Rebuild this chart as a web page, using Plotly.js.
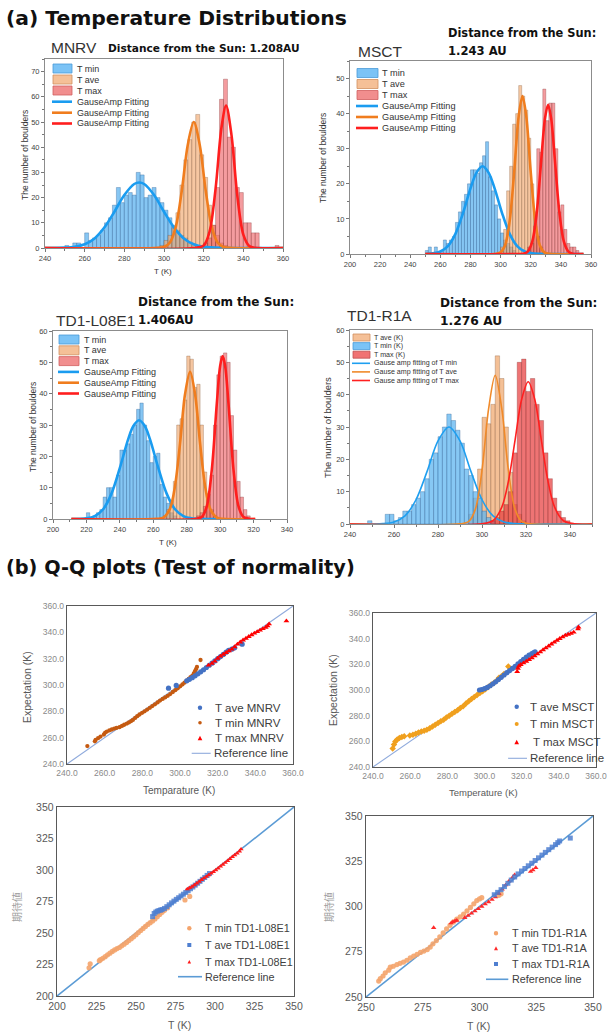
<!DOCTYPE html>
<html><head><meta charset="utf-8">
<script src="https://cdn.plot.ly/plotly-3.0.1.min.js"></script>
<style>html,body{margin:0;padding:0;background:#fff}#chart{width:608px;height:1032px}</style>
</head><body><div id="chart"></div>
<script>
const W = 608, H = 1032;
const px = v => v / W;
const py = v => 1 - v / H;

// ===== (a) Histograms: bin centres (K) and counts =====
const mnrvMinX = [251,253,255,257,259,261,263,265,267,269,271,273,275,277,279,281,283,285,287,289,291,293,295,297,299,301,303,305,307,309,311,313,315,317];
const mnrvMinY = [1,0,2,2,0,6,3,4,5,7,10,12,17,24,18,21,22,21,30,29,20,21,24,20,18,15,12,9,7,5,4,2,1,1];
const mnrvAveX = [299,301,303,305,307,309,311,313,315,317,319,321,323,325,327,329,331];
const mnrvAveY = [1,3,5,8,14,25,35,43,50,53,37,28,17,9,5,2,1];
const mnrvMaxX = [319,321,323,325,327,329,331,333,335,337,339,341,343,345,347,357];
const mnrvMaxY = [1,2,4,9,24,59,67,44,40,24,22,10,10,6,6,1];

const msctMinX = [251,253,255,257,259,261,263,265,267,269,271,273,275,277,279,281,283,285,287,289,291,293,295,297,299,301,303,305,307,309];
const msctMinY = [1,2,0,2,0,1,4,3,4,5,9,12,15,17,20,24,24,23,26,28,32,22,18,14,10,6,4,3,2,1];
const msctAveX = [301,303,305,307,309,311,313,315,317,319,321,323,325,327];
const msctAveY = [2,7,18,25,37,40,48,45,41,33,20,12,5,2];
const msctMaxX = [319,321,323,325,327,329,331,333,335,337,339,341,343,345,347,349,351];
const msctMaxY = [2,3,8,30,29,47,38,43,43,30,12,14,7,3,2,2,1];

const l08MinX = [221,223,225,227,229,231,233,235,237,239,241,243,245,247,249,251,253,255,257,259,261,263,265,267,269,271,273];
const l08MinY = [2,0,1,2,3,7,10,10,7,14,22,22,24,27,30,35,37,30,25,18,20,21,11,7,5,2,1];
const l08AveX = [267,269,271,273,275,277,279,281,283,285,287,289,291,293,295,297];
const l08AveY = [1,3,6,12,30,32,38,52,51,42,43,30,15,8,3,1];
const l08MaxX = [287,289,291,293,295,297,299,301,303,305,307,309,311,313,315,317];
const l08MaxY = [1,2,4,8,14,30,46,52,53,50,33,22,12,7,3,1];

const r1aMinX = [249,251,253,255,257,259,261,263,265,267,269,271,273,275,277,279,281,283,285,287,289,291,293,295,297,299,301,303,305];
const r1aMinY = [1,0,0,0,3,3,1,2,4,4,6,8,10,14,20,22,27,30,34,32,29,25,17,15,10,8,4,2,1];
const r1aAveX = [295,297,299,301,303,305,307,309,311,313,315,317,319];
const r1aAveY = [3,8,17,33,31,37,52,45,30,16,6,3,1];
const r1aMaxX = [305,307,309,311,313,315,317,319,321,323,325,327,329,331,333,335,337,339];
const r1aMaxY = [1,2,4,6,10,22,50,51,41,45,37,32,22,14,8,4,2,1];

// ===== GaussAmp fitting curves =====
const mnrvFitMinX = [240,250,255,260,265,270,275,280,285,287.5,290,295,300,305,310,315,320,330,360];
const mnrvFitMinY = [0,0.13,0.48,1.5,3.8,8.2,14.4,21,25.4,26,25.4,21,14.4,8.2,3.8,1.5,0.48,0.03,0];
const mnrvFitAveX = [240,295,300,303,306,309,312,315,318,321,324,327,330,335,360];
const mnrvFitAveY = [0,0.01,0.38,2.2,8.6,22.9,41,50,41,22.9,8.6,2.2,0.38,0.01,0];
const mnrvFitMaxX = [240,315,320,323,326,329,331.3,334,337,340,343,346,360];
const mnrvFitMaxY = [0,0.01,1.0,6.6,23.5,47.9,56.5,45,20.5,5.3,0.78,0.07,0];

const msctFitMinX = [250,255,260,265,270,275,280,284,288,292,296,301,306,311,316,321,330,355];
const msctFitMinY = [0,0.18,0.71,2.27,5.75,11.6,18.7,23.2,25,23.2,18.7,11.6,5.75,2.27,0.71,0.18,0.01,0];
const msctFitAveX = [250,296,300,303,306,309,312,314.5,317,320,323,326,329,333,355];
const msctFitAveY = [0,0,0.47,2.5,9.4,23.3,39.3,45,39.3,23.3,9.4,2.5,0.47,0.03,0];
const msctFitMaxX = [250,312,315,318,321,324,327,329.5,331.5,333.5,336,339,342,345,348,352,355];
const msctFitMaxY = [0,0,0.09,0.69,3.5,11.9,26.9,38.8,42.5,38.8,26.9,11.9,3.5,0.69,0.09,0,0];

const l08FitMinX = [211,220,225,230,235,240,245,248,251.5,255,258,263,268,273,278,283,290,300];
const l08FitMinY = [0,0.22,0.94,3.1,8.1,16.3,25.5,29.6,31.5,29.6,25.5,16.3,8.1,3.1,0.94,0.22,0.01,0];
const l08FitAveX = [211,262,266,270,273,276,279,282,285,288,291,294,298,302,321];
const l08FitAveY = [0,0.03,0.41,3.3,10.5,24.1,39.8,47,39.8,24.1,10.5,3.3,0.41,0.03,0];
const l08FitMaxX = [211,285,289,292,295,298,300,301.5,303,305,308,311,314,318,321];
const l08FitMaxY = [0,0.02,0.63,4,15.7,36.8,48.8,52,48.8,36.8,15.7,4,0.63,0.02,0];

const r1aFitMinX = [240,255,260,265,270,275,280,285,290,295,300,305,310,315,320,350];
const r1aFitMinY = [0,0.12,0.63,2.5,7.5,16.2,25.7,30,25.7,16.2,7.5,2.5,0.63,0.12,0.02,0];
const r1aFitAveX = [240,290,294,297,300,303,306,309,312,315,318,322,350];
const r1aFitAveY = [0,0.03,0.78,4.6,16.6,35.6,46,35.6,16.6,4.6,0.78,0.03,0];
const r1aFitMaxX = [240,300,305,309,312,315,318,321,324,327,330,333,337,342,350];
const r1aFitMaxY = [0,0.06,1,5.2,13.2,25.8,38.5,44,38.5,25.8,13.2,5.2,1,0.06,0];

// ===== (b) Q-Q plots: temperature (x) vs expectation (y) =====
const qqMnrvMinX = [250.8,254.8,255.2,256.5,257.8,259.6,260.3,261.2,262.5,263.8,265.1,266.3,267.9,269.2,270.4,271.8,272.9,274.1,275.0,276.2,277.3,278.5,279.9,281.2,282.6,284.0,285.3,286.7,288.1,289.4,290.8,292.1,293.5,294.8,296.2,297.5,298.8,300.1,301.3,302.4,303.5,304.6,305.6,306.5,307.3,307.9,308.5,309.0,310.9];
const qqMnrvMinY = [253.6,257.2,258.3,259.6,260.8,262.4,263.9,264.6,265.5,266.2,266.9,267.4,268.0,268.9,269.8,270.7,271.6,272.6,273.5,275.0,276.3,277.6,278.9,280.0,281.3,282.7,284.0,285.3,286.8,288.2,289.4,290.6,291.8,293.1,294.7,296.1,297.5,299.0,300.4,301.8,303.3,304.6,305.9,307.0,308.6,310.3,312.0,313.7,319.0];
const qqMnrvAveX = [293.9,298.0,303.6,305.0,306.5,308.0,309.5,311.0,312.5,314.0,315.5,317.0,318.5,320.0,321.5,323.0,324.5,325.8,327.5,329.0,333.0];
const qqMnrvAveY = [297.6,299.7,303.2,304.3,305.6,307.0,308.5,310.0,311.6,313.3,315.0,316.6,318.3,320.0,321.6,323.2,324.9,326.4,327.2,328.2,331.0];
const qqMnrvMaxX = [315.2,317.0,318.5,320.0,321.5,323.0,324.5,326.0,327.5,329.0,330.5,332.0,333.5,335.0,336.5,338.0,339.5,341.0,342.5,344.0,345.5,346.5,347.3,356.5];
const qqMnrvMaxY = [315.0,316.4,318.0,320.2,321.8,323.2,324.6,325.9,327.1,328.9,330.9,332.6,334.1,335.4,336.7,338.1,339.3,340.4,341.6,342.7,343.8,344.8,346.3,348.6];

const qqMsctMinX = [250.6,251.3,252.0,253.0,254.2,255.5,256.8,259.8,261.5,263.0,264.5,266.0,267.5,269.0,270.5,272.0,273.5,275.0,276.5,278.0,279.5,281.0,282.5,284.0,285.5,287.0,288.5,290.0,291.5,293.0,294.5,296.0,297.5,299.0,300.5,302.0,303.5,305.0,306.5,307.8,309.0,310.5,312.8];
const qqMsctMinY = [254.5,257.5,259.8,261.5,262.6,263.3,264.0,264.5,265.2,266.0,266.9,267.6,268.3,269.0,270.2,271.5,273.0,274.3,275.6,276.9,278.5,280.0,281.4,282.8,284.3,285.9,287.4,289.4,291.2,292.9,294.5,296.2,297.7,299.1,300.6,302.4,304.1,305.5,307.3,309.5,310.6,312.5,318.4];
const qqMsctAveX = [297.3,298.5,300.0,301.5,303.0,304.5,306.0,307.5,309.0,310.5,312.0,313.5,315.0,316.5,318.0,319.5,321.0,322.5,324.0,325.5,326.5,327.2];
const qqMsctAveY = [300.0,300.4,301.0,302.0,303.3,304.8,306.4,308.1,309.9,311.7,313.5,315.1,316.8,318.5,320.3,322.1,323.9,325.6,327.2,328.4,329.2,329.8];
const qqMsctMaxX = [317.6,318.0,318.5,319.5,321.0,322.5,324.0,325.5,327.0,328.5,330.0,331.5,333.0,334.5,336.0,337.5,339.0,340.5,342.0,343.5,345.0,346.5,348.0,350.3,350.6];
const qqMsctMaxY = [314.3,316.8,318.6,319.8,321.0,322.3,323.6,325.0,326.5,328.0,329.6,331.2,332.7,334.2,335.7,337.2,338.6,340.0,341.3,342.5,343.3,344.0,345.0,347.5,349.0];

const qqL08MinX = [220.3,221.0,226.8,227.5,229.0,230.5,232.0,233.5,235.0,236.5,238.0,239.5,241.0,242.5,244.0,245.5,247.0,248.5,250.0,251.5,253.0,254.5,256.0,257.5,259.0,260.5,262.0,263.5,265.0,266.5,268.0,270.0,281.0,284.0];
const qqL08MinY = [222.4,225.6,228.0,228.8,229.9,231.2,232.7,234.0,235.4,236.6,237.6,238.5,239.8,241.1,242.5,244.0,245.5,247.0,248.6,250.3,252.0,253.6,255.2,256.8,258.2,259.6,261.2,262.9,264.7,266.4,268.0,270.0,276.2,279.0];
const qqL08AveX = [260.5,261.5,262.5,263.5,264.5,265.5,266.5,268.0,269.5,271.0,272.5,274.0,275.5,277.0,278.5,280.0,281.5,283.0,284.5,286.0,287.5,289.0,290.5,292.0,293.5,295.0,296.5];
const qqL08AveY = [263.0,265.5,266.6,267.3,267.8,268.2,268.6,269.5,270.9,272.4,273.9,275.3,276.7,278.0,279.4,280.8,282.2,283.6,285.1,286.5,288.0,289.5,291.0,292.6,294.1,295.7,297.2];
const qqL08MaxX = [282.5,284.0,285.5,287.0,288.5,290.0,291.5,293.0,294.5,296.0,297.5,299.0,300.5,302.0,303.5,305.0,306.5,308.0,309.5,311.0,312.5,314.0,315.5,316.5];
const qqL08MaxY = [284.8,285.8,286.8,288.0,289.4,290.8,292.2,293.5,294.7,296.0,297.3,298.6,300.0,301.4,302.8,304.3,305.8,307.3,308.8,310.4,311.9,313.3,314.8,316.5];

const qqR1aMinX = [255.6,256.3,257.5,258.5,260.0,260.7,262.0,263.6,265.0,266.5,268.0,269.5,271.0,272.5,274.0,275.5,277.0,278.3,279.5,281.0,282.5,284.0,285.5,287.0,288.5,290.0,291.5,293.0,294.5,296.0,297.5,298.8,300.0,301.0,308.5,309.5];
const qqR1aMinY = [258.8,260.1,261.6,263.4,264.8,266.5,267.0,267.9,268.6,269.3,270.3,271.6,272.6,273.6,274.6,275.4,276.2,277.6,279.4,281.2,283.2,285.4,287.6,289.6,291.5,293.0,294.3,295.8,297.6,299.5,301.5,303.3,304.2,304.9,306.2,307.0];
const qqR1aAveX = [279.8,287.5,288.3,289.2,290.0,293.5,295.0,296.5,298.0,299.5,301.0,302.5,304.0,305.5,307.0,308.5,310.0,311.5,313.0,314.5,315.5,322.5,323.5,324.8];
const qqR1aAveY = [288.3,290.8,291.5,292.0,292.3,293.8,295.0,296.2,297.5,298.7,300.0,301.3,302.5,303.8,305.2,307.2,309.5,311.8,314.0,316.0,317.5,319.3,320.2,321.4];
const qqR1aMaxX = [306.5,308.0,309.5,311.0,312.5,314.0,315.5,317.0,318.5,320.0,321.5,323.0,324.5,326.0,327.5,329.0,330.5,332.0,333.5,334.5,335.3,340.0];
const qqR1aMaxY = [306.5,307.8,309.3,311.0,312.8,314.6,316.3,318.0,319.6,321.0,322.5,323.9,325.4,326.9,328.4,329.9,331.4,332.8,334.2,335.3,336.2,337.8];

const refLineA = [240, 360];
const refLineB = [200, 350];
const refLineC = [250, 350];

// ===== helpers =====
const FONT = 'Liberation Sans, Arial, sans-serif';
const BFONT = 'DejaVu Sans, Verdana, sans-serif';
const ref = (k, i) => k + (i === 1 ? '' : i);
const axKey = (k, i) => k + 'axis' + (i === 1 ? '' : i);

const traces = [];
function bars(x, y, color, line, i) {
  traces.push({type: 'bar', x: x, y: y, width: 2,
    marker: {color: color, line: {color: line, width: 0.6}},
    xaxis: ref('x', i), yaxis: ref('y', i), hoverinfo: 'skip'});
}
function fit(x, y, color, w, i) {
  traces.push({type: 'scatter', mode: 'lines', x: x, y: y,
    line: {color: color, width: w, shape: 'spline', smoothing: 0.9},
    xaxis: ref('x', i), yaxis: ref('y', i), hoverinfo: 'skip'});
}
function pts(x, y, color, symbol, size, i, op) {
  traces.push({type: 'scatter', mode: 'markers', x: x, y: y,
    marker: {color: color, symbol: symbol, size: size, opacity: op || 1, line: {width: 0}},
    xaxis: ref('x', i), yaxis: ref('y', i), hoverinfo: 'skip', cliponaxis: false});
}
function refl(v, color, w, i) {
  traces.push({type: 'scatter', mode: 'lines', x: v, y: v,
    line: {color: color, width: w}, xaxis: ref('x', i), yaxis: ref('y', i), hoverinfo: 'skip'});
}

const layout = {
  width: W, height: H, margin: {l: 0, r: 0, t: 0, b: 0},
  paper_bgcolor: '#ffffff', plot_bgcolor: '#ffffff',
  showlegend: false, barmode: 'overlay', bargap: 0,
  font: {family: FONT, color: '#333'},
  annotations: [], shapes: []
};

function histAxes(i, x0, x1, y0, y1, xr, yr, xdt) {
  const common = {showline: true, mirror: true, linecolor: '#8c8c8c', linewidth: 1,
    ticks: 'outside', ticklen: 3, tickwidth: 0.8, tickcolor: '#555',
    tickfont: {size: 7.5, color: '#444', family: FONT}, showgrid: false, zeroline: false, fixedrange: true};
  layout[axKey('x', i)] = Object.assign({}, common, {domain: [px(x0), px(x1)], anchor: ref('y', i),
    range: xr, tick0: 0, dtick: xdt,
    minor: {ticks: 'outside', ticklen: 2, dtick: xdt / 2, tick0: 0, tickcolor: '#555', showgrid: false}});
  layout[axKey('y', i)] = Object.assign({}, common, {domain: [py(y1), py(y0)], anchor: ref('x', i),
    range: yr, tick0: 0, dtick: 10,
    minor: {ticks: 'outside', ticklen: 2, dtick: 5, tick0: 0, tickcolor: '#555', showgrid: false}});
}
function qqAxes(i, x0, x1, y0, y1, rng, dt, fmt, fs, tc) {
  const common = {showline: true, mirror: true, linecolor: '#595959', linewidth: 1.3,
    ticks: '', tickfont: {size: fs, color: tc, family: FONT}, showgrid: false, zeroline: false,
    range: rng, tick0: 0, dtick: dt, tickformat: fmt, fixedrange: true};
  layout[axKey('x', i)] = Object.assign({}, common, {domain: [px(x0), px(x1)], anchor: ref('y', i)});
  layout[axKey('y', i)] = Object.assign({}, common, {domain: [py(y1), py(y0)], anchor: ref('x', i)});
}

function ann(text, x, y, size, o) {
  o = o || {};
  layout.annotations.push({text: text, xref: 'paper', yref: 'paper', x: px(x), y: py(y),
    xanchor: o.xa || 'left', yanchor: 'middle', showarrow: false, textangle: o.angle || 0,
    font: {size: size, color: o.color || '#222', family: o.family || FONT}});
}
function rect(x0, y0, x1, y1, fill, line) {
  layout.shapes.push({type: 'rect', xref: 'paper', yref: 'paper', x0: px(x0), x1: px(x1), y0: py(y1), y1: py(y0),
    fillcolor: fill, line: {color: line, width: 0.8}});
}
function hline(x0, x1, y, color, w) {
  layout.shapes.push({type: 'line', xref: 'paper', yref: 'paper', x0: px(x0), x1: px(x1), y0: py(y), y1: py(y),
    line: {color: color, width: w}});
}
function dot(cx, cy, r, color) {
  layout.shapes.push({type: 'circle', xref: 'paper', yref: 'paper', x0: px(cx - r), x1: px(cx + r), y0: py(cy + r), y1: py(cy - r),
    fillcolor: color, line: {width: 0}});
}
function sq(cx, cy, r, color) {
  layout.shapes.push({type: 'rect', xref: 'paper', yref: 'paper', x0: px(cx - r), x1: px(cx + r), y0: py(cy + r), y1: py(cy - r),
    fillcolor: color, line: {width: 0}});
}
function tri(cx, cy, r, color) {
  layout.shapes.push({type: 'path', xref: 'paper', yref: 'paper',
    path: 'M ' + px(cx - r) + ' ' + py(cy + r) + ' L ' + px(cx + r) + ' ' + py(cy + r) + ' L ' + px(cx) + ' ' + py(cy - r) + ' Z',
    fillcolor: color, line: {width: 0}});
}

// ===== colours =====
const cBlueBar = 'rgba(88,176,238,0.72)', cBlueEdge = 'rgba(40,90,140,0.55)';
const cOrgBar = 'rgba(240,165,105,0.62)', cOrgEdge = 'rgba(120,80,50,0.5)';
const cRedBar = 'rgba(236,85,90,0.58)', cRedEdge = 'rgba(120,40,40,0.5)';
const cBlueFit = '#1a9cf0', cOrgFit = '#f07d1e', cRedFit = '#ff1e1e';

// ===== panel 1: MNRV =====
histAxes(1, 45, 283, 59, 248, [240, 360], [0, 75], 20);
bars(mnrvMinX, mnrvMinY, cBlueBar, cBlueEdge, 1);
bars(mnrvAveX, mnrvAveY, cOrgBar, cOrgEdge, 1);
bars(mnrvMaxX, mnrvMaxY, cRedBar, cRedEdge, 1);
fit(mnrvFitMinX, mnrvFitMinY, cBlueFit, 2.6, 1);
fit(mnrvFitAveX, mnrvFitAveY, cOrgFit, 2.6, 1);
fit(mnrvFitMaxX, mnrvFitMaxY, cRedFit, 2.6, 1);

// ===== panel 2: MSCT =====
histAxes(2, 350, 591, 61, 254, [200, 360], [0, 55], 20);
bars(msctMinX, msctMinY, cBlueBar, cBlueEdge, 2);
bars(msctAveX, msctAveY, cOrgBar, cOrgEdge, 2);
bars(msctMaxX, msctMaxY, cRedBar, cRedEdge, 2);
fit(msctFitMinX, msctFitMinY, cBlueFit, 2.6, 2);
fit(msctFitAveX, msctFitAveY, cOrgFit, 2.6, 2);
fit(msctFitMaxX, msctFitMaxY, cRedFit, 2.6, 2);

// ===== panel 3: TD1-L08E1 =====
histAxes(3, 53, 287, 331, 519, [200, 340], [0, 60], 20);
bars(l08MinX, l08MinY, cBlueBar, cBlueEdge, 3);
bars(l08AveX, l08AveY, cOrgBar, cOrgEdge, 3);
bars(l08MaxX, l08MaxY, cRedBar, cRedEdge, 3);
fit(l08FitMinX, l08FitMinY, cBlueFit, 2.6, 3);
fit(l08FitAveX, l08FitAveY, cOrgFit, 2.6, 3);
fit(l08FitMaxX, l08FitMaxY, cRedFit, 2.6, 3);

// ===== panel 4: TD1-R1A =====
histAxes(4, 350, 592, 330, 524, [240, 350], [0, 60], 20);
bars(r1aAveX, r1aAveY, 'rgba(240,168,110,0.72)', cOrgEdge, 4);
bars(r1aMinX, r1aMinY, 'rgba(95,182,240,0.75)', cBlueEdge, 4);
bars(r1aMaxX, r1aMaxY, 'rgba(232,62,62,0.72)', cRedEdge, 4);
fit(r1aFitMinX, r1aFitMinY, '#1e9ff0', 1.6, 4);
fit(r1aFitAveX, r1aFitAveY, '#f08a2a', 1.6, 4);
fit(r1aFitMaxX, r1aFitMaxY, '#ff2020', 1.6, 4);

// ===== panel 5: QQ MNRV =====
qqAxes(5, 67, 293, 606, 764, [240, 360], 20, '.1f', 8.5, '#8a8a8a');
refl(refLineA, '#8faadc', 1.1, 5);
pts(qqMnrvMinX, qqMnrvMinY, '#c55a11', 'circle', 4.3, 5);
pts(qqMnrvAveX, qqMnrvAveY, '#4472c4', 'circle', 5.2, 5);
pts(qqMnrvMaxX, qqMnrvMaxY, '#ff0000', 'triangle-up', 5.2, 5);

// ===== panel 6: QQ MSCT =====
qqAxes(6, 373, 596, 613, 767, [240, 360], 20, '.1f', 8.5, '#8a8a8a');
refl(refLineA, '#8faadc', 1.1, 6);
pts(qqMsctMinX, qqMsctMinY, '#f0a01e', 'diamond', 5, 6);
pts(qqMsctAveX, qqMsctAveY, '#4472c4', 'circle', 5.2, 6);
pts(qqMsctMaxX, qqMsctMaxY, '#ff0000', 'triangle-up', 5.2, 6);

// ===== panel 7: QQ TD1-L08E1 =====
qqAxes(7, 57, 294, 807, 996, [200, 350], 25, 'd', 10.5, '#595959');
refl(refLineB, '#5b9bd5', 1.6, 7);
pts(qqL08MinX, qqL08MinY, '#f4a46c', 'circle', 5.2, 7, 0.9);
pts(qqL08AveX, qqL08AveY, '#4f7fd0', 'square', 5, 7, 0.85);
pts(qqL08MaxX, qqL08MaxY, '#ff1a1a', 'triangle-up', 4.6, 7);

// ===== panel 8: QQ TD1-R1A =====
qqAxes(8, 366, 593, 816, 997, [250, 350], 25, 'd', 10.5, '#595959');
refl(refLineC, '#5b9bd5', 1.6, 8);
pts(qqR1aMinX, qqR1aMinY, '#f4a46c', 'circle', 5.2, 8, 0.9);
pts(qqR1aAveX, qqR1aAveY, '#ff2a2a', 'triangle-up', 4.8, 8);
pts(qqR1aMaxX, qqR1aMaxY, '#4f7fd0', 'square', 5, 8, 0.85);

// ===== headings =====
ann('<b>(a) Temperature Distributions</b>', 4, 18, 20.3, {family: BFONT, color: '#111'});
ann('<b>(b) Q-Q plots (Test of normality)</b>', 4, 567, 19.3, {family: BFONT, color: '#111'});

// panel captions
ann('MNRV', 49, 48, 15.5, {color: '#333'});
ann('<b>Distance from the Sun: 1.208AU</b>', 106, 48, 10.6, {family: BFONT, color: '#111'});
ann('<b>Distance from the Sun:</b>', 446, 33, 11.4, {family: BFONT, color: '#111'});
ann('<b>1.243 AU</b>', 446, 51, 11.6, {family: BFONT, color: '#111'});
ann('MSCT', 356, 52, 15.5, {color: '#333'});
ann('<b>Distance from the Sun:</b>', 136, 302, 12, {family: BFONT, color: '#111'});
ann('TD1-L08E1', 54, 320, 15.5, {color: '#333'});
ann('<b>1.406AU</b>', 136, 320, 11.8, {family: BFONT, color: '#111'});
ann('TD1-R1A', 345, 315, 15.5, {color: '#333'});
ann('<b>Distance from the Sun:</b>', 438, 303, 12.1, {family: BFONT, color: '#111'});
ann('<b>1.276 AU</b>', 438, 321, 12.3, {family: BFONT, color: '#111'});

// hist axis titles
ann('The number of boulders', 25, 155, 8.5, {xa: 'center', angle: -90, color: '#333'});
ann('The number of boulders', 323, 158, 8.5, {xa: 'center', angle: -90, color: '#333'});
ann('The number of boulders', 33, 427, 8.5, {xa: 'center', angle: -90, color: '#333'});
ann('The number of boulders', 327, 428, 9.5, {xa: 'center', angle: -90, color: '#333'});
ann('T (K)', 163, 271, 8, {xa: 'center', color: '#333'});
ann('T (K)', 168, 542, 8, {xa: 'center', color: '#333'});

// QQ axis titles
ann('Expectation (K)', 27, 687, 10.5, {xa: 'center', angle: -90, color: '#595959'});
ann('Temparature (K)', 179, 790, 10, {xa: 'center', color: '#595959'});
ann('Expectation (K)', 333, 690, 10.5, {xa: 'center', angle: -90, color: '#595959'});
ann('Temperature (K)', 483, 792, 9.5, {xa: 'center', color: '#595959'});
ann('期待値', 16, 907, 10, {xa: 'center', angle: -90, color: '#a0a0a0', family: 'Noto Sans CJK JP'});
ann('T (K)', 179, 1025, 10.5, {xa: 'center', color: '#595959'});
ann('期待値', 328, 907, 10, {xa: 'center', angle: -90, color: '#a0a0a0', family: 'Noto Sans CJK JP'});
ann('T (K)', 478, 1026, 10.5, {xa: 'center', color: '#595959'});

// ===== manual legends: histograms =====
function histLegend(xp0, xp1, tx, ys, labels, fills, edges, lineCols, fs, ph, lw) {
  for (let k = 0; k < 3; k++) {
    rect(xp0, ys[k] - ph / 2, xp1, ys[k] + ph / 2, fills[k], edges[k]);
    ann(labels[k], tx, ys[k], fs, {color: '#333'});
  }
  for (let k = 3; k < 6; k++) {
    hline(xp0 - 1, xp1, ys[k], lineCols[k - 3], lw);
    ann(labels[k], tx, ys[k], fs, {color: '#333'});
  }
}
const stdLabels = ['T min', 'T ave', 'T max', 'GauseAmp Fitting', 'GauseAmp Fitting', 'GauseAmp Fitting'];
const stdFills = ['rgba(100,185,245,0.85)', 'rgba(244,185,140,0.9)', 'rgba(240,130,130,0.9)'];
const stdEdges = ['#4a9ad8', '#d09060', '#d06060'];
const stdLines = [cBlueFit, cOrgFit, cRedFit];
histLegend(53, 72, 75, [68.5, 79.5, 90.5, 101.7, 112.7, 123.5], stdLabels, stdFills, stdEdges, stdLines, 9, 9, 2.6);
histLegend(357, 378, 380, [73, 84, 95, 106, 117, 128], stdLabels, stdFills, stdEdges, stdLines, 9.2, 9, 2.6);
histLegend(59, 79, 82, [339.5, 350.3, 361.1, 371.9, 382.7, 393.5], stdLabels, stdFills, stdEdges, stdLines, 9, 9, 2.6);
histLegend(353, 370, 372, [337.5, 346.1, 354.7, 363.3, 371.9, 380.5],
  ['T ave (K)', 'T min (K)', 'T max (K)', 'Gause amp fitting of T min', 'Gause amp fitting of T ave', 'Gause amp fitting of T max'],
  ['rgba(244,185,140,0.9)', 'rgba(100,185,245,0.85)', 'rgba(238,100,100,0.9)'], ['#d09060', '#4a9ad8', '#c05050'],
  ['#1e9ff0', '#f08a2a', '#ff2020'], 7.1, 7, 1.6);

// ===== manual legends: QQ =====
dot(200, 707.7, 2.2, '#4472c4'); ann('T ave MNRV', 213, 707.7, 11.5, {color: '#404040'});
dot(200, 722.7, 1.8, '#c55a11'); ann('T min MNRV', 213, 722.7, 11.5, {color: '#404040'});
tri(200, 738, 2.3, '#ff0000'); ann('T max MNRV', 213, 738, 11.5, {color: '#404040'});
hline(191.7, 210.7, 753.3, '#8faadc', 1.1); ann('Reference line', 211.5, 753.3, 11.5, {color: '#404040'});

dot(516.7, 706.7, 2.2, '#4472c4'); ann('T ave MSCT', 527.5, 706.7, 11.5, {color: '#404040'});
dot(516.7, 724, 2, '#f0a01e'); ann('T min MSCT', 527.5, 724, 11.5, {color: '#404040'});
tri(516.7, 742, 2.3, '#ff0000'); ann(' T max MSCT', 527.5, 742, 11.5, {color: '#404040'});
hline(508, 527, 758.3, '#8faadc', 1.1); ann('Reference line', 527.5, 758.3, 11.5, {color: '#404040'});

dot(189.3, 928.3, 2.2, '#f4a46c'); ann('T min TD1-L08E1', 203, 928.3, 10.8, {color: '#404040'});
sq(189.3, 945, 2, '#4f7fd0'); ann('T ave TD1-L08E1', 203, 945, 10.8, {color: '#404040'});
tri(189.3, 961.7, 1.8, '#ff1a1a'); ann('T max TD1-L08E1', 203, 961.7, 10.8, {color: '#404040'});
hline(178, 202, 976.7, '#5b9bd5', 1.6); ann('Reference line', 203, 976.7, 10.8, {color: '#404040'});

dot(496, 933.3, 2.2, '#f4a46c'); ann('T min TD1-R1A', 509.5, 933.3, 10.8, {color: '#404040'});
tri(496, 948.3, 2, '#ff2a2a'); ann('T ave TD1-R1A', 509.5, 948.3, 10.8, {color: '#404040'});
sq(496, 964, 2, '#4f7fd0'); ann('T max TD1-R1A', 509.5, 964, 10.8, {color: '#404040'});
hline(486, 508.3, 979.3, '#5b9bd5', 1.6); ann('Reference line', 509.5, 979.3, 10.8, {color: '#404040'});

Plotly.newPlot('chart', traces, layout, {staticPlot: true, displayModeBar: false});
</script></body></html>
